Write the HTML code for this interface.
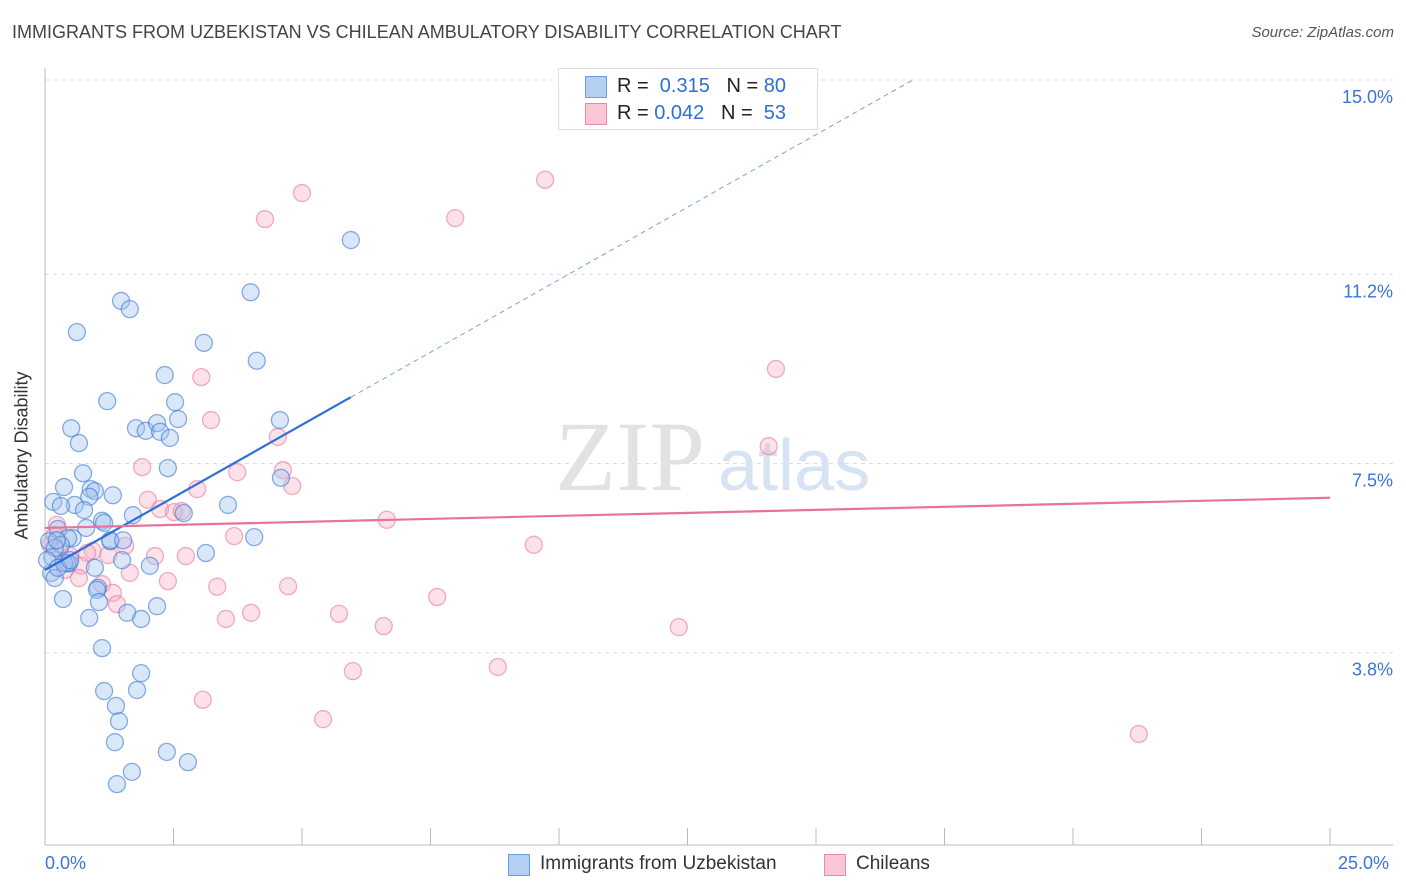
<!DOCTYPE html>
<html><head><meta charset="utf-8">
<style>
body{margin:0;background:#fff;font-family:"Liberation Sans",sans-serif;}
#wrap{position:relative;width:1406px;height:892px;overflow:hidden;}
.t{position:absolute;white-space:nowrap;}
</style></head>
<body>
<div id="wrap">
<div class="t" style="left:12px;top:22px;font-size:18px;color:#444;">IMMIGRANTS FROM UZBEKISTAN VS CHILEAN AMBULATORY DISABILITY CORRELATION CHART</div>
<div class="t" style="right:12px;top:24px;font-size:15px;color:#555;font-style:italic;">Source: ZipAtlas.com</div>
<div class="t" style="left:-62px;top:445px;font-size:18px;color:#333;transform:rotate(-90deg);">Ambulatory Disability</div>
<svg id="chart" width="1406" height="892" style="position:absolute;left:0;top:0"></svg>
</div>
<script>
const blueX=[5.95,4.0,1.48,1.65,0.62,3.09,4.12,2.33,1.21,2.53,4.57,0.51,1.77,1.96,2.18,2.59,2.24,2.43,0.66,0.74,2.39,0.37,0.89,0.97,1.32,0.16,0.86,0.58,0.31,0.76,3.56,2.7,1.71,1.11,1.15,0.8,0.25,0.08,0.54,0.45,0.31,1.27,4.07,3.13,1.5,2.04,0.47,0.43,0.97,0.12,0.19,1.03,1.01,0.35,1.05,2.18,1.6,1.87,0.86,1.11,1.87,1.15,1.79,1.38,1.44,1.36,2.37,2.78,1.69,1.4,4.59,0.14,0.19,0.37,0.04,0.25,0.23,0.49,1.27,1.52];
const blueY=[11.87,10.85,10.68,10.52,10.07,9.86,9.51,9.23,8.72,8.70,8.35,8.19,8.19,8.14,8.29,8.37,8.12,8.00,7.90,7.31,7.41,7.04,7.00,6.96,6.88,6.75,6.85,6.69,6.67,6.59,6.69,6.53,6.49,6.38,6.34,6.24,6.22,5.98,6.04,6.04,5.91,5.98,6.06,5.75,5.61,5.50,5.55,5.55,5.46,5.36,5.26,5.07,5.03,4.85,4.79,4.71,4.58,4.46,4.48,3.89,3.40,3.05,3.07,2.76,2.46,2.05,1.86,1.66,1.47,1.23,7.22,5.67,5.85,5.55,5.61,5.46,6.00,5.61,6.00,6.00];
const pinkX=[9.73,5.0,4.28,7.98,14.22,3.04,14.08,3.23,4.53,1.89,3.74,4.63,4.81,2.96,2.0,2.24,2.51,2.66,6.65,0.23,3.68,9.51,2.14,2.74,0.93,1.56,0.82,0.29,1.23,0.70,1.65,2.39,3.35,4.73,0.66,1.11,1.32,1.40,7.63,4.01,5.72,3.52,6.59,12.33,5.99,8.81,3.07,5.41,21.28,0.10,0.49,0.19,0.39];
const pinkY=[13.05,12.79,12.28,12.30,9.35,9.19,7.84,8.35,8.02,7.43,7.33,7.37,7.06,7.00,6.79,6.61,6.55,6.57,6.40,6.30,6.08,5.91,5.69,5.69,5.79,5.89,5.75,5.81,5.71,5.50,5.36,5.20,5.09,5.10,5.26,5.14,4.97,4.75,4.89,4.58,4.56,4.46,4.32,4.30,3.44,3.52,2.88,2.50,2.21,5.91,5.69,6.10,5.42];
const blueFit=[5.42,0.5675]; // intercept, slope
const pinkFit=[6.24,0.0236];
const xTicks=[0,2.5,5,7.5,10,12.5,15,17.5,20,22.5,25];
const yTicks=[3.8,7.5,11.2,15.0];
const yTickLabels=["3.8%","7.5%","11.2%","15.0%"];
const X=v=>45+v*51.4, Y=v=>847-v*51.13;
const svg=document.getElementById('chart');const NS='http://www.w3.org/2000/svg';
function mk(t,a,p){const e=document.createElementNS(NS,t);for(const k in a)e.setAttribute(k,a[k]);(p||svg).appendChild(e);return e;}
yTicks.forEach((v,i)=>{
 const g=mk('line',{x1:45,x2:1393,y1:Y(v),y2:Y(v),stroke:'#ddd','stroke-dasharray':'4,4'});
 
 
 const t=mk('text',{x:1393,y:Y(v)+23,'text-anchor':'end','font-size':18,fill:'#3b74d6','font-family':'Liberation Sans'});
 t.textContent=yTickLabels[i];
 
 
});
const ax=mk('line',{x1:45,x2:45,y1:68,y2:845,stroke:'#bbb'});


const bx=mk('line',{x1:45,x2:1393,y1:845,y2:845,stroke:'#bbb'});


xTicks.forEach(v=>{const l=mk('line',{x1:X(v),x2:X(v),y1:828,y2:845,stroke:'#bbb'});
 
 });
const wm=mk('text',{x:555,y:490,'font-size':100,fill:'#e2e2e2','font-family':'Liberation Serif'});wm.textContent='ZIP';


const wm2=mk('text',{x:718,y:490,'font-size':72,fill:'#d6e3f3','font-family':'Liberation Sans'});wm2.textContent='atlas';


pinkX.forEach((x,i)=>{const c=mk('circle',{cx:X(x),cy:Y(pinkY[i]),r:8.5,fill:'rgba(246,168,192,0.35)',stroke:'rgba(232,120,155,0.6)','stroke-width':1.3});
 
 });
blueX.forEach((x,i)=>{const c=mk('circle',{cx:X(x),cy:Y(blueY[i]),r:8.5,fill:'rgba(160,196,240,0.4)',stroke:'rgba(60,120,210,0.6)','stroke-width':1.3});
 
 });
const bxMax=Math.max(...blueX);
const l1=mk('line',{x1:X(0),y1:Y(blueFit[0]),x2:X(bxMax),y2:Y(blueFit[0]+blueFit[1]*bxMax),stroke:'#2d6fd6','stroke-width':2.2});


const xEnd=(15.0-blueFit[0])/blueFit[1];
const l2=mk('line',{x1:X(bxMax),y1:Y(blueFit[0]+blueFit[1]*bxMax),x2:X(xEnd),y2:Y(15.0),stroke:'#7aa2dc','stroke-width':1,'stroke-dasharray':'5,4'});


const l3=mk('line',{x1:X(0),y1:Y(pinkFit[0]),x2:X(25),y2:Y(pinkFit[0]+pinkFit[1]*25),stroke:'#e8729a','stroke-width':2.2});


</script>
<div style="position:absolute;left:558px;top:68px;width:258px;height:60px;border:1px solid #ddd;background:#fff;font-size:20px;color:#222;">
 <div style="position:absolute;left:26px;top:7px;width:20px;height:20px;background:#b5cff2;border:1px solid #6f9be0;"></div>
 <div class="t" style="left:58px;top:6px;">R = <span style="color:#2d6fd6">&nbsp;0.315</span>&nbsp;&nbsp;&nbsp;N = <span style="color:#2d6fd6">80</span></div>
 <div style="position:absolute;left:26px;top:34px;width:20px;height:20px;background:#f8c6d5;border:1px solid #e88aa8;"></div>
 <div class="t" style="left:58px;top:33px;">R = <span style="color:#2d6fd6">0.042</span>&nbsp;&nbsp;&nbsp;N = <span style="color:#2d6fd6">&nbsp;53</span></div>
</div>
<div class="t" style="left:45px;top:853px;font-size:18px;color:#3b74d6;">0.0%</div>
<div class="t" style="left:1338px;top:853px;font-size:18px;color:#3b74d6;">25.0%</div>
<div style="position:absolute;left:508px;top:853px;height:24px;">
 <div style="position:absolute;left:0;top:1px;width:20px;height:20px;background:#b5cff2;border:1px solid #6f9be0;"></div>
 <div class="t" style="left:32px;top:0;font-size:19px;color:#333;">Immigrants from Uzbekistan</div></div>
<div style="position:absolute;left:824px;top:853px;height:24px;">
 <div style="position:absolute;left:0;top:1px;width:20px;height:20px;background:#f8c6d5;border:1px solid #e88aa8;"></div>
 <div class="t" style="left:32px;top:0;font-size:19px;color:#333;">Chileans</div></div>
</body></html>
